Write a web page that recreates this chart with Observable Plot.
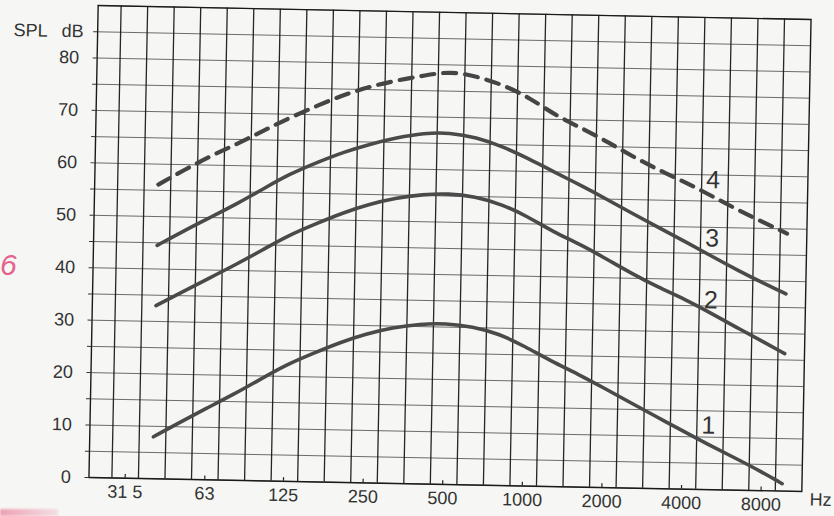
<!DOCTYPE html>
<html><head><meta charset="utf-8">
<script src="https://cdn.jsdelivr.net/npm/d3@7"></script>
<script src="https://cdn.jsdelivr.net/npm/@observablehq/plot@0.6"></script>
<style>
html,body{margin:0;padding:0;background:#f6f7f4;}
#wrap{position:relative;width:834px;height:516px;overflow:hidden;background:#f6f7f4;}
#chart svg{transform:rotate(1.12deg);transform-origin:449.75px 248px;overflow:visible;}
.mark6{position:absolute;left:0px;top:248px;font:italic 30px "Liberation Sans",sans-serif;color:#e4628f;}
.smudge{position:absolute;left:0;top:509px;width:58px;height:7px;background:linear-gradient(90deg,rgba(230,90,130,0.55),rgba(230,90,130,0.15));filter:blur(1px);}
</style></head><body>
<div id="wrap"><div id="chart"></div><div class="mark6">6</div><div class="smudge"></div></div>
<script>
// Frequencies (Hz, third-octave band centres) at which the curves are read
const freqs = [40,50,63,80,100,125,160,200,250,315,400,500,630,800,1000,1250,1600,2000,2500,3150,4000,5000,6300,8000,9600];
// SPL dB for each curve
const curve1 = [8.0,10.8,13.6,16.4,19.3,22.2,24.6,26.7,28.4,29.7,30.5,30.7,30.2,28.9,26.6,24.0,21.5,19.0,16.4,13.8,11.1,8.6,6.2,3.6,1.4];
const curve2 = [33.0,35.7,38.4,41.2,44.0,46.9,49.3,51.4,53.1,54.4,55.2,55.5,55.0,53.6,51.4,48.6,46.2,43.6,40.9,38.4,36.2,33.7,31.0,28.3,26.2];
const curve3 = [44.5,47.3,50.0,52.8,55.7,58.6,61.0,63.0,64.6,65.9,66.9,67.1,66.3,64.6,62.4,60.0,57.4,54.9,52.3,49.7,47.1,44.5,41.9,39.4,37.6];
const curve4 = [56.1,59.0,61.8,64.3,66.9,69.4,71.9,74.0,75.6,76.9,77.9,78.8,77.9,76.3,74.0,70.8,68.3,65.8,63.1,60.6,58.3,55.9,53.3,50.9,49.1];
const curveNames = ["1","2","3","4"];
const curveDashed = [false,false,false,true];
// curve number labels
const labelFreq = 5000;
const labelDb = [12.2,36.1,47.9,59.0];
// axis ticks
const octaveTicks = [31.5,63,125,250,500,1000,2000,4000,8000];
const octaveLabels = ["31 5","63","125","250","500","1000","2000","4000","8000"];
const dbTicks = [0,10,20,30,40,50,60,70,80];

const series = [curve1,curve2,curve3,curve4];
const rows = series.flatMap((vals,i)=>freqs.map((f,j)=>({f, db: vals[j], name: curveNames[i], dashed: curveDashed[i]})));
const labelMap = new Map(octaveTicks.map((t,i)=>[t, octaveLabels[i]]));
const f0 = 31.5;
const bandEdges = d3.range(0, 26).map(k => f0 * Math.pow(2, k/3 - 1/6));
const xDomain = [f0 * Math.pow(2, -0.455), f0 * Math.pow(2, 8.5)];
const labels = curveNames.map((n,i)=>({n, f: labelFreq, db: labelDb[i]}));

const chart = Plot.plot({
  width: 834, height: 516,
  marginLeft: 93, marginRight: 28, marginTop: 12, marginBottom: 32,
  x: {type: "log", domain: xDomain, axis: null},
  y: {domain: [0, 90]},
  style: {background: "transparent", fontFamily: "Liberation Sans, sans-serif", fontSize: "18px", color: "#333", overflow: "visible"},
  marks: [
    Plot.gridY(d3.range(0, 91, 5), {stroke: "#2a2a2a", strokeOpacity: 0.75, strokeWidth: 0.9}),
    Plot.gridX(bandEdges, {stroke: "#1a1a1a", strokeOpacity: 0.95, strokeWidth: 1.3}),
    Plot.frame({stroke: "#1a1a1a", strokeWidth: 1.4}),
    Plot.ruleX(octaveTicks, {y1: 0, y2: 0.7, stroke: "#222", strokeWidth: 1.2}),
    Plot.line(rows.filter(d=>!d.dashed), {x: "f", y: "db", z: "name", curve: "basis", stroke: "#4a4a4a", strokeWidth: 3.6, strokeLinecap: "round"}),
    Plot.line(rows.filter(d=>d.dashed), {x: "f", y: "db", z: "name", curve: "basis", stroke: "#454545", strokeWidth: 4.2, strokeDasharray: "13,9"}),
    Plot.text(labels, {x: "f", y: "db", text: "n", fontSize: 25, fill: "#333"}),
    Plot.text(octaveTicks, {x: d => d, text: d => labelMap.get(d), frameAnchor: "bottom", dy: 14, lineAnchor: "middle", fill: "#333"}),
    Plot.axisY(d3.range(0, 90, 5), {tickFormat: d => dbTicks.includes(d) ? String(d) : "", tickSize: 4, tickPadding: 14, label: null, fill: "#333"}),
    Plot.text([85], {y: d => d, frameAnchor: "left", text: () => "SPL", dx: -67, textAnchor: "middle", fill: "#333"}),
    Plot.text([85], {y: d => d, frameAnchor: "left", text: () => "dB", dx: -25, textAnchor: "middle", fill: "#333"}),
    Plot.text(["Hz"], {frameAnchor: "bottom-right", text: d => d, dx: 19, dy: 14, textAnchor: "middle", fill: "#333"})
  ]
});
document.getElementById("chart").appendChild(chart);
</script>
</body></html>
